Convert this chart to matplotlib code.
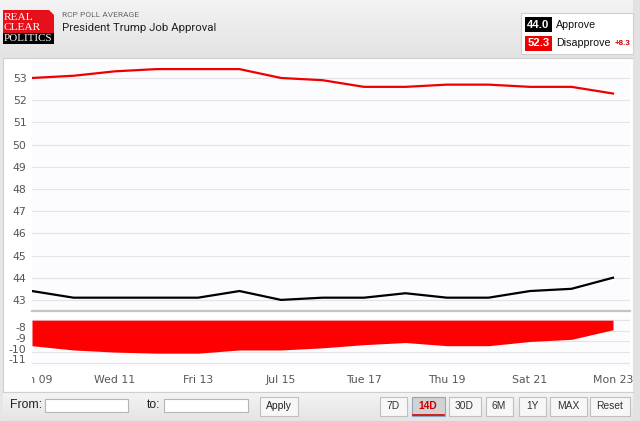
import numpy as np
import matplotlib
matplotlib.use("Agg")
import matplotlib.pyplot as plt
from matplotlib.patches import Rectangle, Polygon
from matplotlib.transforms import ScaledTranslation

# ---------------- data ----------------
days = [9, 10, 11, 12, 13, 14, 15, 16, 17, 18, 19, 20, 21, 22, 23]
approve = [43.4, 43.1, 43.1, 43.1, 43.1, 43.4, 43.0, 43.1, 43.1, 43.3, 43.1, 43.1, 43.4, 43.5, 44.0]
disapprove = [53.0, 53.1, 53.3, 53.4, 53.4, 53.4, 53.0, 52.9, 52.6, 52.6, 52.7, 52.7, 52.6, 52.6, 52.3]
spread = [-9.4, -9.8, -10.0, -10.1, -10.1, -9.8, -9.8, -9.6, -9.3, -9.1, -9.4, -9.4, -9.0, -8.8, -7.9]
xtick_days = [9, 11, 13, 15, 17, 19, 21, 23]
xtick_labels = ["Mon 09", "Wed 11", "Fri 13", "Jul 15", "Tue 17", "Thu 19", "Sat 21", "Mon 23"]
upper_ticks = list(range(43, 54))
lower_ticks = [-7, -8, -9, -10, -11]
lower_labels = ["", "-8", "-9", "-10", "-11"]
range_buttons = ["7D", "14D", "30D", "6M", "1Y", "MAX", "Reset"]
selected_button = "14D"

W, H = 640, 421
fig = plt.figure(figsize=(W / 100, H / 100), dpi=100)
fig.patch.set_facecolor("#e6e6e6")


def fa(x0, y0, x1, y1):
    return [x0 / W, 1 - y1 / H, (x1 - x0) / W, (y1 - y0) / H]


# ---------------- background overlay (pixel coords) ----------------
bg = fig.add_axes([0, 0, 1, 1], zorder=0)
bg.set_xlim(0, W)
bg.set_ylim(H, 0)
bg.axis("off")

grad = np.linspace(0, 1, 60).reshape(-1, 1)
bg.imshow(grad, extent=[0, W, 58, 0], cmap=matplotlib.colors.LinearSegmentedColormap.from_list(
    "g", ["#f3f3f3", "#e3e3e3"]), aspect="auto", zorder=0)
# chart panel
bg.add_patch(Rectangle((3, 58), 630, 334, facecolor="white", edgecolor="#cfcfcf", lw=0.8, zorder=1))
# right strip
bg.add_patch(Rectangle((633, 0), 7, H, facecolor="#e2e2e2", edgecolor="none", zorder=1))
# bottom bar
bg.imshow(grad, extent=[3, 633, 421, 392], cmap=matplotlib.colors.LinearSegmentedColormap.from_list(
    "g2", ["#f4f4f4", "#e4e4e4"]), aspect="auto", zorder=1)
bg.plot([3, 633], [392, 392], color="#cfcfcf", lw=0.8, zorder=2)
bg.set_xlim(0, W)
bg.set_ylim(H, 0)

# logo
bg.add_patch(Polygon([(3, 10), (49, 10), (54, 15), (54, 33), (3, 33)], closed=True,
                     facecolor="#e4111b", edgecolor="none", zorder=3))
bg.add_patch(Rectangle((3, 33), 51, 11, facecolor="black", edgecolor="none", zorder=3))
logo_font = dict(family="Liberation Serif", color="white", va="center", ha="left", zorder=4)
bg.text(3.5, 17.2, "REAL", fontsize=8.2, **logo_font)
bg.text(3.5, 27.0, "CLEAR", fontsize=8.2, **logo_font)
bg.text(3.2, 38.6, "POLITICS", fontsize=7.9, **logo_font)

# header text
bg.text(62, 15, "RCP POLL AVERAGE", family="Roboto", fontsize=6.0, color="#666666", va="center", ha="left")
bg.text(62, 28, "President Trump Job Approval", family="Roboto", fontsize=8.2, color="#222222",
        va="center", ha="left")

# legend box
leg_font = "Liberation Sans"
bg.add_patch(Rectangle((520.5, 12.5), 112.5, 41, facecolor="white", edgecolor="#d0d0d0", lw=0.8, zorder=3))
bg.add_patch(Rectangle((525, 17), 27, 15, facecolor="black", edgecolor="none", zorder=4))
bg.add_patch(Rectangle((525, 35.5), 27, 15, facecolor="#ee0000", edgecolor="none", zorder=4))
bg.text(538.5, 24.8, f"{approve[-1]:.1f}", color="white", fontweight="bold", fontsize=8.2,
        family=leg_font, ha="center", va="center", zorder=5)
bg.text(538.5, 43.3, f"{disapprove[-1]:.1f}", color="white", fontweight="bold", fontsize=8.2,
        family=leg_font, ha="center", va="center", zorder=5)
bg.text(556, 24.5, "Approve", color="#111111", fontsize=7.7, family=leg_font, ha="left", va="center", zorder=5)
bg.text(556, 43, "Disapprove", color="#111111", fontsize=7.7, family=leg_font, ha="left", va="center", zorder=5)
bg.text(614.5, 43.5, f"+{disapprove[-1] - approve[-1]:.1f}", color="#cc0000", fontsize=5.8, fontweight="bold",
        family=leg_font, ha="left", va="center", zorder=5)

# bottom controls
ui_font = dict(family="Liberation Sans", color="#222222", va="center", zorder=5)
bg.text(10, 405, "From:", fontsize=8.8, ha="left", **ui_font)
bg.add_patch(Rectangle((45, 398.5), 83, 13, facecolor="white", edgecolor="#b5b5b5", lw=0.8, zorder=4))
bg.text(147, 405, "to:", fontsize=8.8, ha="left", **ui_font)
bg.add_patch(Rectangle((164, 398.5), 84, 13, facecolor="white", edgecolor="#b5b5b5", lw=0.8, zorder=4))
bg.add_patch(Rectangle((259.5, 396.5), 38, 19, facecolor="#f7f7f7", edgecolor="#c0c0c0", lw=0.8, zorder=4))
bg.text(278.5, 406, "Apply", fontsize=7.4, ha="center", **ui_font)

btn_x = [(379, 406), (411, 444), (448, 480), (485, 512), (518, 545), (549, 586), (589, 629)]
for lab, (x0, x1) in zip(range_buttons, btn_x):
    sel = lab == selected_button
    bg.add_patch(Rectangle((x0 + 0.5, 396.5), x1 - x0, 19,
                           facecolor="#d2d2d2" if sel else "#f7f7f7",
                           edgecolor="#8fa6c4" if sel else "#c0c0c0", lw=0.8, zorder=4))
    if sel:
        bg.plot([x0 + 1.5, x1 - 0.5], [414.5, 414.5], color="#cc0000", lw=1.2, zorder=5)
    bg.text((x0 + x1) / 2 + 0.5, 406, lab, fontsize=7.4, ha="center",
            family="Liberation Sans", va="center", zorder=5,
            color="#cc0000" if sel else "#333333", fontweight="bold" if sel else "normal")

# ---------------- upper plot ----------------
px_per_day = 41.5
xmin = days[0]
xmax = days[-1] + 17 / px_per_day
ax = fig.add_axes(fa(32, 62, 630, 311), zorder=2)
ax.set_facecolor("#fcfcfe")
ax.set_xlim(xmin, xmax)
ax.set_ylim(42.5, 53.72)
for t in upper_ticks:
    ax.axhline(t, color="#e3e3e8", lw=0.8, zorder=1)
ax.plot(days, disapprove, color="#ee0000", lw=1.6, zorder=3, solid_joinstyle="round")
ax.plot(days, approve, color="#000000", lw=1.6, zorder=3, solid_joinstyle="round")
ax.set_yticks(upper_ticks)
ax.set_yticklabels([str(t) for t in upper_ticks])
ax.set_xticks([])
ax.tick_params(axis="y", length=0, pad=4, labelsize=7.8, labelcolor="#555555")
for s in ["top", "left", "right"]:
    ax.spines[s].set_visible(False)
ax.spines["bottom"].set_color("#c4c4c4")
ax.spines["bottom"].set_linewidth(1.6)

# ---------------- lower (spread) plot ----------------
ax2 = fig.add_axes(fa(32, 317, 630, 367), zorder=2)
ax2.set_facecolor("#fcfcfe")
ax2.set_xlim(xmin, xmax)
ax2.set_ylim(-11.4, -6.7)
for t in lower_ticks:
    ax2.axhline(t, color="#e3e3e8", lw=0.8, zorder=1)
ax2.fill_between(days, spread, lower_ticks[0], color="#ff0000", lw=0, zorder=3)
ax2.set_yticks(lower_ticks)
ax2.set_yticklabels(lower_labels)
ax2.set_xticks([])
ax2.tick_params(axis="y", length=0, pad=4, labelsize=7.8, labelcolor="#555555")
for s in ax2.spines.values():
    s.set_visible(False)
off = ScaledTranslation(0, 2.5 / 72, fig.dpi_scale_trans)
for lbl in ax2.get_yticklabels():
    lbl.set_transform(lbl.get_transform() + off)

# ---------------- x labels (clipped at plot left edge) ----------------
axl = fig.add_axes(fa(32, 368, 636, 392), zorder=2)
axl.set_xlim(xmin, xmax + 6 / px_per_day)
axl.set_ylim(0, 1)
axl.axis("off")
for d, lab in zip(xtick_days, xtick_labels):
    axl.text(d, 0.5, lab, ha="center", va="center", fontsize=7.8, color="#555555", clip_on=True)

fig.savefig("out.png", dpi=100, facecolor=fig.get_facecolor())
